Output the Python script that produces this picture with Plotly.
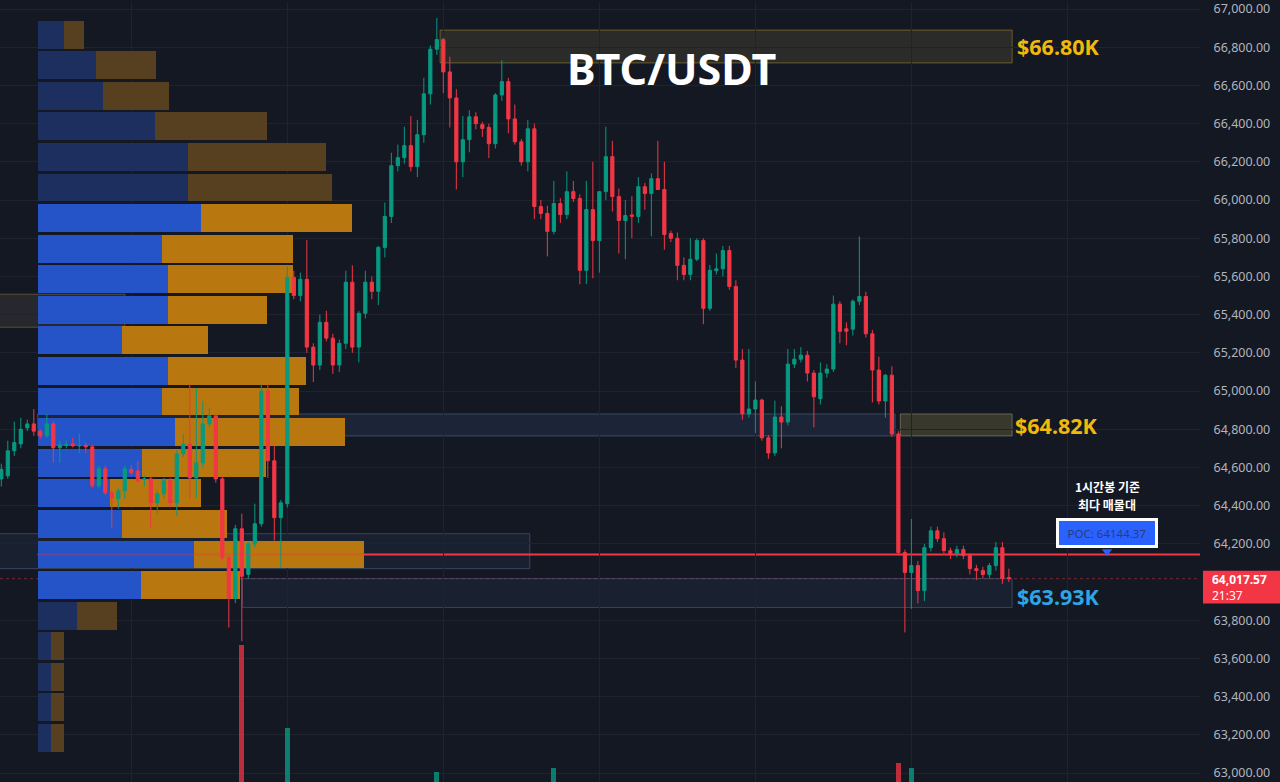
import plotly.graph_objects as go

# ---------------- data ----------------
opens = [64540,64556,64687,64723,64807,64828,64790,64765,64828,64703,
         64715,64723,64713,64715,64708,64504,64593,64468,64436,64478,
         64590,64582,64538,64540,64415,64462,64530,64415,64671,64723,
         64545,64624,64828,64870,64540,64128,63914,64279,64040,64200,
         64305,65000,64635,64337,64410,65595,65500,65585,65230,65136,
         65360,65277,65136,65250,65570,65230,65407,65570,65522,65752,
         65914,66180,66222,66285,66175,66342,66556,66790,66840,66671,
         66535,66200,66316,66436,66395,66380,66295,66550,66620,66425,
         66305,66200,66373,65966,65930,65836,65982,65924,66044,66008,
         65632,65950,65788,66044,66227,66018,65893,65922,65914,66070,
         66034,66112,66055,65825,65800,65658,65610,65690,65788,65433,
         65630,65640,65736,65548,65162,64880,64906,64953,64755,64676,
         64864,64838,65141,65167,65188,65094,64960,65094,65115,65455,
         65326,65324,65470,65495,65300,65110,64948,65083,64775,64154,
         64050,64086,63955,64180,64268,64227,64164,64150,64170,64138,
         64070,64060,64040,64086,64180,64024]
highs = [64620,64740,64840,64860,64850,64906,64800,64880,64840,64740,
         64740,64755,64780,64730,64720,64609,64610,64480,64490,64609,
         64612,64634,64560,64550,64480,64545,64545,64690,64775,65037,
         65016,64948,64911,64880,64555,64140,64300,64358,64210,64410,
         65040,65040,64715,64430,65653,65630,65620,65790,65250,65400,
         65420,65300,65270,65630,65658,65420,65630,65600,65760,65987,
         66248,66290,66384,66440,66420,66640,66810,66953,66850,66750,
         66580,66440,66470,66460,66410,66400,66560,66733,66640,66500,
         66320,66420,66400,66000,65970,66100,66010,66150,66100,66030,
         66100,66200,66010,66384,66310,66060,66000,66020,66120,66090,
         66140,66310,66200,65840,65830,65700,65800,65800,65800,65660,
         65720,65760,65760,65580,65220,65220,65050,64960,64770,64950,
         64920,65220,65220,65230,65210,65110,65150,65140,65500,65470,
         65360,65480,65810,65520,65320,65180,65090,65130,64790,64170,
         64330,64110,64200,64290,64290,64260,64180,64190,64190,64150,
         64090,64080,64100,64210,64210,64070]
lows = [64500,64540,64660,64700,64790,64765,64750,64755,64624,64624,
        64700,64705,64676,64676,64490,64490,64455,64285,64384,64436,
        64560,64520,64500,64285,64358,64440,64390,64347,64655,64436,
        64440,64600,64810,64520,64112,63762,63890,63690,64018,64180,
        64290,64545,64217,64076,64390,65480,65470,65200,65047,65110,
        65260,65090,65100,65220,65200,65150,65380,65480,65450,65700,
        65880,66150,66190,66150,66120,66300,66500,66760,66560,66380,
        66055,66120,66250,66370,66330,66220,66270,66520,66350,66290,
        66180,66150,65900,65900,65705,65820,65880,65900,65990,65559,
        65560,65590,65620,66000,65940,65720,65690,65800,65880,65950,
        65810,66070,65740,65780,65580,65580,65580,65680,65350,65420,
        65610,65600,65530,65120,64850,64860,64780,64740,64645,64660,
        64700,64820,65120,65150,65050,64810,64930,65070,65100,65250,
        65240,65290,65450,65280,64940,64930,64860,64760,64140,63736,
        63860,63888,63900,64160,64210,64150,64120,64130,64120,64040,
        64010,64020,64020,64060,63990,64000]
closes = [64590,64687,64730,64800,64828,64790,64765,64828,64703,64718,
          64720,64713,64715,64708,64504,64593,64468,64441,64478,64593,
          64572,64530,64540,64415,64462,64530,64415,64671,64723,64545,
          64624,64828,64870,64540,64128,63914,64279,64030,64200,64305,
          65000,64635,64337,64415,65595,65500,65585,65230,65136,65360,
          65277,65136,65250,65570,65230,65407,65570,65522,65752,65914,
          66180,66222,66285,66175,66342,66556,66790,66840,66671,66535,
          66200,66316,66436,66400,66375,66295,66550,66620,66425,66305,
          66200,66373,65966,65930,65836,65982,65924,66044,66008,65632,
          65950,65788,66044,66227,66018,65893,65919,65915,66070,66034,
          66112,66055,65820,65800,65658,65610,65690,65788,65433,65632,
          65640,65736,65548,65162,64880,64906,64953,64755,64676,64864,
          64838,65141,65167,65188,65094,64970,65094,65115,65455,65313,
          65313,65470,65495,65300,65110,64948,65083,64775,64154,64050,
          64086,63955,64180,64268,64227,64164,64150,64170,64138,64070,
          64060,64040,64086,64180,64018,64017.57]
candle_idx = list(range(len(opens)))

# visible volume bars (bottom pane, mostly cut off)
vol_idx = [37, 44, 67, 85, 138, 140]
vol_vals = [1370, 540, 100, 140, 190, 140]

# volume profile (rows, top -> bottom)
vp_price = [66866, 66706, 66546, 66386, 66226, 66066, 65906, 65746, 65585, 65425,
            65265, 65105, 64945, 64785, 64625, 64465, 64305, 64144.37, 63984, 63824,
            63664, 63504, 63344, 63184]
vp_up = [260, 580, 650, 1170, 1500, 1500, 1630, 1240, 1300, 1300,
         840, 1300, 1240, 1370, 1040, 720, 840, 1560, 1030, 390,
         130, 130, 130, 130]
vp_down = [200, 600, 660, 1120, 1380, 1440, 1510, 1310, 1250, 990,
           860, 1380, 1370, 1700, 1240, 910, 1050, 1700, 990, 400,
           130, 130, 130, 130]
value_area = (6, 18)

poc_price = 64144.37
last_price = 64017.57
last_time = "21:37"

# zones: (x0, x1, y0, y1, fill, line)
zones = [
    (67.5, 155.5, 66890, 66718, "rgba(62,60,50,0.55)", "rgba(170,140,40,0.55)"),
    (-0.5, 19.0, 65507, 65334, "rgba(60,60,58,0.45)", "rgba(150,125,60,0.5)"),
    (5.6, 137.5, 64880, 64765, "rgba(40,62,95,0.35)", "rgba(90,110,140,0.55)"),
    (138.3, 155.5, 64880, 64765, "rgba(88,84,52,0.55)", "rgba(140,140,120,0.6)"),
    (-0.5, 81.3, 64253, 64070, "rgba(40,55,80,0.3)", "rgba(90,110,140,0.5)"),
    (37.1, 155.5, 64018, 63867, "rgba(40,55,80,0.3)", "rgba(90,110,140,0.5)"),
]
zone_labels = [("$66.80K", 156.0, 66804, "#f0b90b"),
               ("$64.82K", 155.6, 64822, "#f0b90b"),
               ("$63.93K", 156.0, 63925, "#2ea6e3")]

price_ticks = [p for p in range(63000, 67001, 200) if p != 64000]

# ---------------- figure ----------------
BG = "#141823"
GRID = "#1f2330"
GREEN = "#089981"
RED = "#f23645"
W, H = 1280, 782
YR = [62953, 67037]
XR = [-0.2, 184.4]
ppx = (YR[1] - YR[0]) / H  # price per pixel

fig = go.Figure()

# volume profile (base subplot, drawn underneath the candles)
up_cols, dn_cols = [], []
for i in range(len(vp_price)):
    if value_area[0] <= i <= value_area[1]:
        up_cols.append("#2454c8"); dn_cols.append("#b8770f")
    else:
        up_cols.append("#1d2f5f"); dn_cols.append("#56401f")
fig.add_trace(go.Bar(y=vp_price, x=vp_up, base=0, orientation="h", width=146,
                     marker=dict(color=up_cols, line=dict(width=0)),
                     xaxis="x", yaxis="y", showlegend=False, hoverinfo="skip"))
fig.add_trace(go.Bar(y=vp_price, x=vp_down, base=vp_up, orientation="h", width=146,
                     marker=dict(color=dn_cols, line=dict(width=0)),
                     xaxis="x", yaxis="y", showlegend=False, hoverinfo="skip"))

# candles (overlay subplot)
fig.add_trace(go.Candlestick(
    x=candle_idx, open=opens, high=highs, low=lows, close=closes,
    increasing=dict(line=dict(color=GREEN, width=1), fillcolor=GREEN),
    decreasing=dict(line=dict(color=RED, width=1), fillcolor=RED),
    whiskerwidth=0, showlegend=False, xaxis="x2", yaxis="y"))

# POC pointer
fig.add_trace(go.Scatter(x=[170.1], y=[poc_price + 3 * ppx], mode="markers",
                         marker=dict(symbol="triangle-down", size=9, color="#2962ff"),
                         xaxis="x2", yaxis="y", showlegend=False, hoverinfo="skip"))

# volume bars
vcols = ["rgba(8,153,129,0.8)" if closes[k] >= opens[k] else "rgba(242,54,69,0.75)" for k in vol_idx]
fig.add_trace(go.Bar(x=vol_idx, y=vol_vals, width=0.8, marker=dict(color=vcols, line=dict(width=0)),
                     xaxis="x2", yaxis="y2", showlegend=False, hoverinfo="skip"))

shapes = []
for x0, x1, y0, y1, fc, lc in zones:
    shapes.append(dict(type="rect", xref="x2", yref="y", x0=x0, x1=x1, y0=y0, y1=y1,
                       fillcolor=fc, line=dict(color=lc, width=1), layer="below"))
shapes.append(dict(type="line", xref="x2", yref="y", x0=5.6, x1=XR[1], y0=poc_price, y1=poc_price,
                   line=dict(color=RED, width=2), layer="below"))
shapes.append(dict(type="line", xref="x2", yref="y", x0=5.6, x1=57, y0=poc_price, y1=poc_price,
                   line=dict(color="rgba(242,54,69,0.35)", width=1.5), layer="above"))
shapes.append(dict(type="line", xref="paper", yref="y", x0=0, x1=1, y0=last_price, y1=last_price,
                   line=dict(color="rgba(242,54,69,0.45)", width=1, dash="dot"), layer="below"))
# last price tag on axis
shapes.append(dict(type="rect", xref="paper", yref="y", x0=1203 / 1200, x1=1280 / 1200,
                   y0=last_price + 8 * ppx, y1=last_price - 25 * ppx,
                   fillcolor=RED, line=dict(width=0), layer="above"))
fig.update_layout(shapes=shapes)

ann = []
ann.append(dict(text="<b>BTC/USDT</b>", xref="paper", yref="paper", x=671 / 1200, y=1 - 67 / H,
                xanchor="center", yanchor="middle", showarrow=False,
                font=dict(family="Noto Sans", size=43, color="#ffffff")))
for txt, xx, yy, col in zone_labels:
    ann.append(dict(text=f"<b>{txt}</b>", x=xx, y=yy, xref="x2", yref="y", xanchor="left",
                    yanchor="middle", showarrow=False,
                    font=dict(family="Noto Sans", size=21.5, color=col)))
for line_txt, ypx in (("1시간봉 기준", 486), ("최다 매물대", 504)):
    ann.append(dict(text=f"<b>{line_txt}</b>", x=170.1, y=YR[1] - ypx * ppx, xref="x2", yref="y",
                    xanchor="center", yanchor="middle", showarrow=False,
                    font=dict(family="Noto Sans CJK KR", size=12, color="#ffffff")))
ann.append(dict(text=f"POC: {poc_price}", x=170.1, y=poc_price + 21.5 * ppx, xref="x2", yref="y",
                xanchor="center", yanchor="middle", showarrow=False, width=88, height=16,
                bgcolor="#2962ff", bordercolor="#ffffff", borderwidth=3, borderpad=4,
                font=dict(family="Noto Sans", size=11.5, color="#2b3c78")))
ann.append(dict(text=f"<b>{last_price:,.2f}</b><br>{last_time}", xref="paper", yref="y",
                x=1210 / 1200, y=last_price - 8.5 * ppx, xanchor="left", yanchor="middle",
                align="left", showarrow=False,
                font=dict(family="Noto Sans", size=12, color="#ffffff")))
fig.update_layout(annotations=ann)

fig.update_layout(
    width=W, height=H, margin=dict(l=0, r=80, t=0, b=0),
    paper_bgcolor=BG, plot_bgcolor=BG, barmode="overlay", bargap=0,
    boxgap=0.3,
    xaxis=dict(range=[-377, 11623], visible=False, showgrid=False, zeroline=False,
               fixedrange=True),
    xaxis2=dict(overlaying="x", range=XR, showticklabels=False, showgrid=True, gridcolor=GRID,
                tick0=20, dtick=24, zeroline=False, showline=False,
                rangeslider=dict(visible=False), fixedrange=True),
    yaxis=dict(range=YR, side="right", tickmode="array", tickvals=price_ticks,
               tickformat=",.2f", showgrid=True, gridcolor=GRID, zeroline=False,
               ticks="outside", ticklen=10, tickcolor="rgba(0,0,0,0)",
               ticklabeloverflow="allow",
               tickfont=dict(family="Noto Sans", size=12.5, color="#b2b5be"),
               showline=False, fixedrange=True),
    yaxis2=dict(overlaying="y", range=[0, 7820], visible=False, fixedrange=True),
    showlegend=False,
)

fig.write_html("out.html")
